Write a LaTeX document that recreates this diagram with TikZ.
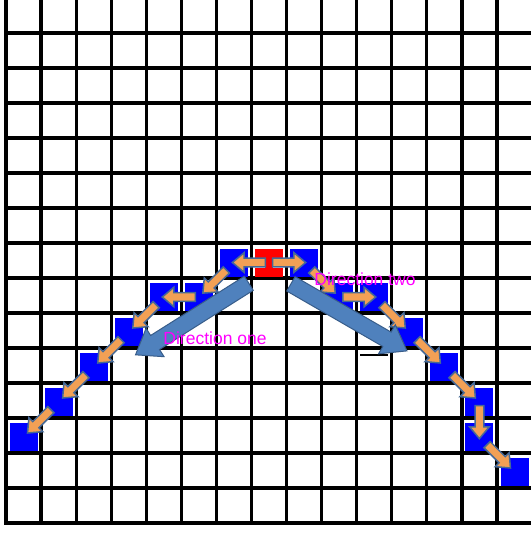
\documentclass[tikz,border=0pt]{standalone}
\usepackage{fontspec}
\setmainfont{Liberation Sans}
\usetikzlibrary{shapes.arrows}
\definecolor{sqblue}{RGB}{0,0,255}
\definecolor{sqred}{RGB}{255,0,0}
\definecolor{arrorange}{RGB}{242,160,85}
\definecolor{arrline}{RGB}{70,105,150}
\definecolor{bigfill}{RGB}{79,129,189}
\definecolor{bigline}{RGB}{56,93,138}
\definecolor{lbl}{RGB}{255,0,255}
\tikzset{
  gridline/.style={line width=3.2pt, black},
  sq/.style={fill=sqblue, draw=none, minimum size=28pt, inner sep=0pt},
  redsq/.style={fill=sqred, draw=none, minimum size=28pt, inner sep=0pt},
  sarrow/.style={single arrow, fill=arrorange, draw=arrline, line width=1.5pt,
    minimum height=33pt, inner xsep=0pt, inner ysep=3.6pt,
    single arrow head extend=5.5pt, single arrow head indent=0pt,
    single arrow tip angle=80, sloped, allow upside down},
  bigarrow/.style={single arrow, fill=bigfill, draw=bigline, line width=1pt,
    minimum height=134pt, inner xsep=0pt, inner ysep=7.8pt,
    single arrow head extend=8.5pt, single arrow head indent=0pt,
    single arrow tip angle=72, sloped, allow upside down},
  lbl/.style={text=lbl, font=\fontsize{17.5}{20}\selectfont, inner sep=0pt}
}
\begin{document}
\begin{tikzpicture}[x=1pt,y=1pt]
\useasboundingbox (0,0) rectangle (531,-533);
\fill[white] (0,0) rectangle (531,-533);
% grid
\foreach \k in {0,...,14}
  \draw[gridline] ({6+35.07*\k},0) -- ({6+35.07*\k},-524.6);
\foreach \j in {0,...,14}
  \draw[gridline] (4.4,{-33-35*\j}) -- (531,{-33-35*\j});
\draw[line width=1.6pt] (360,-355) -- (388,-355);
% start square (red I)
\node[redsq] (R) at (269,-262.5) {};
\fill[white] (255,-257.5) rectangle (265,-268);
\fill[white] (273,-257.5) rectangle (283,-268);
% left chain
\node[sq] (L1) at (234,-262.5) {};
\node[sq] (L2) at (198.9,-297) {};
\node[sq] (L3) at (163.8,-297) {};
\node[sq] (L4) at (128.8,-332) {};
\node[sq] (L5) at (93.7,-367) {};
\node[sq] (L6) at (58.6,-402) {};
\node[sq] (L7) at (23.5,-437) {};
% right chain
\node[sq] (Q1) at (304.1,-262.5) {};
\node[sq] (Q2) at (339.2,-297) {};
\node[sq] (Q3) at (374.2,-297) {};
\node[sq] (Q4) at (409.3,-332) {};
\node[sq] (Q5) at (444.4,-367) {};
\node[sq] (Q6) at (479.4,-402) {};
\node[sq] (Q7) at (479.4,-437) {};
\node[sq] (Q8) at (514.5,-472) {};
% small arrows
\path (R) -- (L1) node[sarrow, midway] {};
\path (L1) -- (L2) node[sarrow, midway] {};
\path (L2) -- (L3) node[sarrow, midway] {};
\path (L3) -- (L4) node[sarrow, midway] {};
\path (L4) -- (L5) node[sarrow, midway] {};
\path (L5) -- (L6) node[sarrow, midway] {};
\path (L6) -- (L7) node[sarrow, midway] {};
\path (R) -- (Q1) node[sarrow, midway] {};
\path (Q1) -- (Q2) node[sarrow, midway] {};
\path (Q2) -- (Q3) node[sarrow, midway] {};
\path (Q3) -- (Q4) node[sarrow, midway] {};
\path (Q4) -- (Q5) node[sarrow, midway] {};
\path (Q5) -- (Q6) node[sarrow, midway] {};
\path (Q6) -- (Q7) node[sarrow, midway] {};
\path (Q7) -- (Q8) node[sarrow, midway] {};
% big direction arrows
\coordinate (d1s) at (254,-280);
\coordinate (d1e) at (140,-352);
\coordinate (d2s) at (286,-281);
\coordinate (d2e) at (402,-348);
\path (d1s) -- (d1e) node[bigarrow, midway] {};
\path (d2s) -- (d2e) node[bigarrow, midway] {};
% labels
\node[lbl] (t1) at (215,-338) {Direction one};
\node[lbl] (t2) at (365,-279) {Direction two};
\end{tikzpicture}
\end{document}
